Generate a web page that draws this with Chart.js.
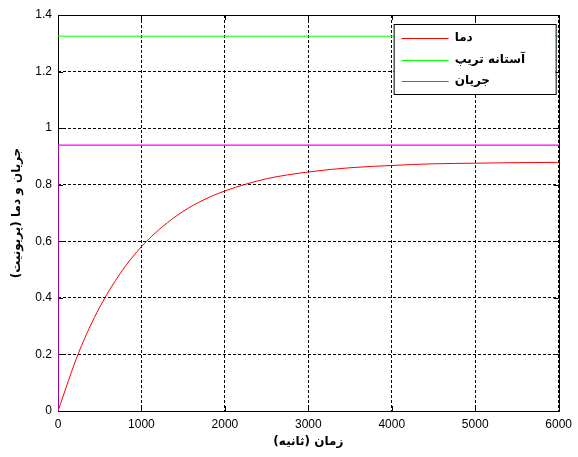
<!DOCTYPE html>
<html>
<head>
<meta charset="utf-8">
<script src="https://cdn.jsdelivr.net/npm/chart.js@4.4.0/dist/chart.umd.min.js"></script>
<style>
html,body{margin:0;padding:0;background:#fff;}
#wrap{width:578px;height:457px;}
</style>
</head>
<body>
<div id="wrap"><canvas id="main-chart"></canvas></div>
<script>
const timeSec=[0,250,500,750,1000,1250,1500,1750,2000,2500,3000,3500,4000,4500,5000,5500,6000];
const tempPu=[0,0.208,0.367,0.488,0.581,0.651,0.706,0.747,0.778,0.821,0.845,0.860,0.868,0.874,0.876,0.878,0.879];
const tripX=[0,6000];
const tripPu=[1.325,1.325];
const currentX=[0,0,6000];
const currentPu=[0,0.94,0.94];
const seriesNames=["دما","آستانه تریپ","جریان"];
const xTicks=[0,1000,2000,3000,4000,5000,6000];
const yTicks=[0,0.2,0.4,0.6,0.8,1,1.2,1.4];

const FONT="'Liberation Sans', 'DejaVu Sans', Arial, sans-serif";

function toPoints(xs,ys){
    return xs.map((x,i)=>({x:x,y:ys[i]}));
}

// legend inside plot, top right, like matlab
const boxLegend={
    id:"boxLegend",
    afterDraw(chart){
        const ctx=chart.ctx;
        const a=chart.chartArea;
        const w=162, h=70;
        const x0=a.right-w-3, y0=a.top+9;
        ctx.save();
        ctx.fillStyle="#fff";
        ctx.fillRect(x0,y0,w,h);
        ctx.strokeStyle="#000";
        ctx.lineWidth=1;
        ctx.strokeRect(x0+0.5,y0+0.5,w,h);
        ctx.font="bold 12px 'DejaVu Sans', sans-serif";
        ctx.direction="rtl";
        ctx.textAlign="left";
        ctx.textBaseline="middle";
        chart.data.datasets.forEach((ds,i)=>{
            const yy=y0+14+i*21.5;
            ctx.strokeStyle=ds.borderColor;
            ctx.beginPath();
            ctx.moveTo(x0+8,Math.round(yy)+0.5);
            ctx.lineTo(x0+55,Math.round(yy)+0.5);
            ctx.stroke();
            ctx.fillStyle="#000";
            ctx.fillText(ds.label,x0+61,yy);
        });
        ctx.restore();
    }
};

// inward ticks and box border
const frame={
    id:"frame",
    beforeDatasetsDraw(chart){
        const ctx=chart.ctx;
        const a=chart.chartArea;
        const xs=chart.scales.x, ys=chart.scales.y;
        ctx.save();
        ctx.strokeStyle="#000";
        ctx.lineWidth=1;
        ctx.beginPath();
        xTicks.forEach(v=>{
            const px=Math.round(xs.getPixelForValue(v))+0.5;
            ctx.moveTo(px,a.bottom);ctx.lineTo(px,a.bottom-5);
            ctx.moveTo(px,a.top);ctx.lineTo(px,a.top+5);
        });
        yTicks.forEach(v=>{
            const py=Math.round(ys.getPixelForValue(v))+0.5;
            ctx.moveTo(a.left,py);ctx.lineTo(a.left+5,py);
            ctx.moveTo(a.right,py);ctx.lineTo(a.right-5,py);
        });
        ctx.stroke();
        ctx.strokeRect(Math.round(a.left)+0.5,Math.round(a.top)+0.5,Math.round(a.right-a.left),Math.round(a.bottom-a.top));
        ctx.restore();
    }
};

const ctx=document.getElementById("main-chart").getContext("2d");
const mychart=new Chart(ctx,{
    type:"line",
    data:{
        datasets:[
            {label:seriesNames[0],data:toPoints(timeSec,tempPu),borderColor:"#ff0000",borderWidth:1,pointRadius:0,cubicInterpolationMode:"monotone",order:3},
            {label:seriesNames[1],data:toPoints(tripX,tripPu),borderColor:"#00ff00",borderWidth:1,pointRadius:0,order:2},
            {label:seriesNames[2],data:toPoints(currentX,currentPu),borderColor:"#ff00ff",borderWidth:1.2,pointRadius:0,order:1}
        ]
    },
    options:{
        responsive:true,
        maintainAspectRatio:false,
        animation:false,
        layout:{padding:{top:15,right:18,left:10,bottom:8}},
        plugins:{legend:{display:false},tooltip:{enabled:false}},
        scales:{
            x:{
                type:"linear",min:0,max:6000,
                afterBuildTicks:(s)=>{s.ticks=xTicks.map(v=>({value:v}));},
                afterFit:(s)=>{s.height=38;},
                grid:{color:"#000",drawTicks:false},
                border:{display:false,dash:[3,2]},
                ticks:{color:"#000",font:{family:FONT,size:12},padding:6,maxRotation:0,callback:(v)=>String(v)},
                title:{display:true,text:"زمان (ثانیه)",color:"#000",font:{family:"'DejaVu Sans', sans-serif",size:12,weight:"bold"},padding:{top:2,bottom:0}}
            },
            y:{
                min:0,max:1.4,
                afterBuildTicks:(s)=>{s.ticks=yTicks.map(v=>({value:v}));},
                afterFit:(s)=>{s.width=48;},
                grid:{color:"#000",drawTicks:false},
                border:{display:false,dash:[3,2]},
                ticks:{color:"#000",font:{family:FONT,size:12},padding:6,callback:(v)=>String(v)},
                title:{display:true,text:"جریان و دما (پریونیت)",color:"#000",font:{family:"'DejaVu Sans', sans-serif",size:12,weight:"bold"},padding:{top:0,bottom:4}}
            }
        }
    },
    plugins:[frame,boxLegend]
});
</script>
</body>
</html>
